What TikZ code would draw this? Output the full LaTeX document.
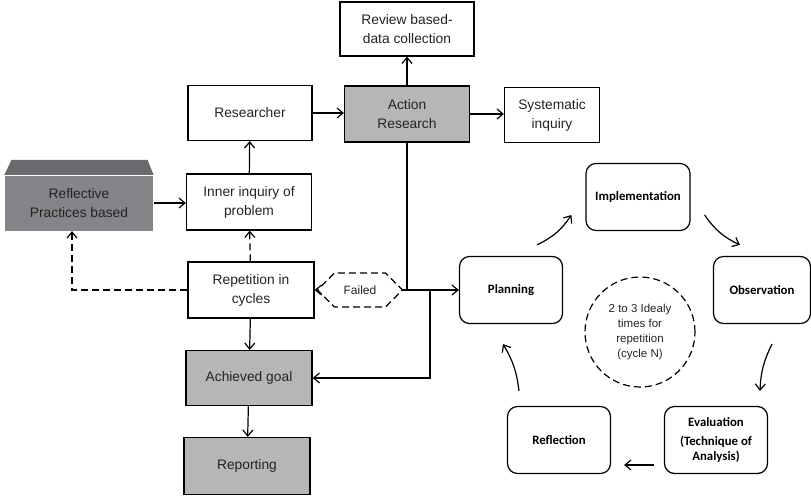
\documentclass[tikz,border=0pt]{standalone}
\usepackage{fontspec}
\setmainfont{Liberation Sans}
\newfontfamily\cyclefont{Carlito}
\usetikzlibrary{arrows.meta,shapes.symbols}

\definecolor{boxgray}{RGB}{180,182,184}
\definecolor{reflfront}{RGB}{131,133,136}
\definecolor{refltop}{RGB}{104,106,109}
\definecolor{inkgray}{RGB}{35,35,35}

\begin{document}
\begin{tikzpicture}[x=1pt, y=-1pt, line width=1.2pt,
  >={Straight Barb[length=6pt,width=10pt]},
  box/.style={draw, minimum width=125, minimum height=55, align=center,
    text=inkgray, inner sep=2pt, font=\fontsize{13.8}{19}\selectfont},
  graybox/.style={box, fill=boxgray},
  cyclebox/.style={draw, rounded corners=10, minimum width=103,
    minimum height=67, align=center,
    font=\cyclefont\bfseries\fontsize{12.8}{15}\selectfont},
  dashline/.style={dash pattern=on 7pt off 4pt}]

      \useasboundingbox (0,0) rectangle (811,499);

      % The top row round the action research box.
      \node[box, minimum width=134, minimum height=54] (review) at (407,29)
      {Review based-\\data collection};
      \node[box, minimum width=124] (researcher) at (250,113) {Researcher};
      \node[graybox, minimum height=56] (action) at (407,114)
      {Action\\Research};
      \node[box, minimum width=95] (systematic) at (552,115)
      {Systematic\\inquiry};

      \draw[->] (action) -- (review);
      \draw[->] (researcher.east) -- (researcher.east -| action.west);
      \draw[->] (action.east) -- (action.east -| systematic.west);

      % The reflective practices block, with its bevelled top.
      \node[minimum width=148, minimum height=55, fill=reflfront,
      text=inkgray, align=center, font=\fontsize{13.8}{19}\selectfont]
      (reflective) at (79,203) {Reflective\\Practices based};
      \fill[refltop] (reflective.north west) -- ++(7,-15)
      -- ([shift={(-6,-15)}]reflective.north east)
      -- (reflective.north east) -- cycle;

      % The left column.
      \node[box, minimum height=56] (inner) at (249,202)
      {Inner inquiry of\\problem};
      \node[box, minimum width=126, minimum height=56] (repetition)
      at (251,290) {Repetition in\\cycles};
      \node[graybox, minimum width=126] (goal) at (249,378)
      {Achieved goal};
      \node[graybox, minimum width=126, minimum height=57] (reporting)
      at (247,466) {Reporting};

      \draw[->] (inner) -- (researcher);
      \draw[->] (reflective.east) -- (reflective.east -| inner.west);
      \draw[->, dashline] (repetition) -- (inner);
      \draw[->, dashline] (repetition.west) -| ([xshift=-7]reflective.south);
      \draw[->] (repetition) -- (goal);
      \draw[->] (goal) -- (reporting);

      % The failed branch back to the repetition box.
      \node[signal, signal to=west and east, draw, dashline,
      minimum width=85, minimum height=34, text=inkgray,
      font=\fontsize{12}{14}\selectfont] (failed) at (360,290) {Failed};
      \draw[->, dashline] (failed.west) -- (repetition.east);
      \draw (failed.east) -- (failed.east -| action.south);

      % The cycle boxes.
      \node[cyclebox] (planning) at (511,290) {Planning};
      \node[cyclebox, minimum width=104] (impl) at (638,197)
      {Implementation};
      \node[cyclebox, minimum width=97] (observation) at (762,290)
      {Observation};
      \node[cyclebox] (evaluation) at (716,440)
      {Evaluation\\[4pt](Technique of\\Analysis)};
      \node[cyclebox] (reflection) at (559,440) {Reflection};

      % Action research down to planning and to the achieved goal.
      \draw[->] (action.south) |- (planning.west);
      \coordinate (split) at (430,290);
      \draw[->] (split) |- (goal.east);

      % The arrows of the cycle.
      \draw[->] ([shift={(26,-11)}]planning.north) to[bend right=15]
      ([shift={(-14,18)}]impl.west);
      \draw[->] ([shift={(14,18)}]impl.east) to[bend right=15]
      ([shift={(-22,-11)}]observation.north);
      \draw[->] ([shift={(10,20)}]observation.south) to[bend right=12]
      ([shift={(44,-15)}]evaluation.north);
      \draw[->] ([shift={(-10,25)}]evaluation.west) --
      ([shift={(13,25)}]reflection.east);
      \draw[->] ([shift={(-40,-15)}]reflection.north) to[bend right=12]
      ([shift={(-8,20)}]planning.south);

      % The repetition count in the middle of the cycle.
      \node[circle, draw, dashline, minimum size=110, align=center,
      text=inkgray, font=\fontsize{11.5}{15}\selectfont] (cyclen)
      at (640,332) {2 to 3 Idealy\\times for\\repetition\\(cycle N)};
    \end{tikzpicture}
\end{document}
